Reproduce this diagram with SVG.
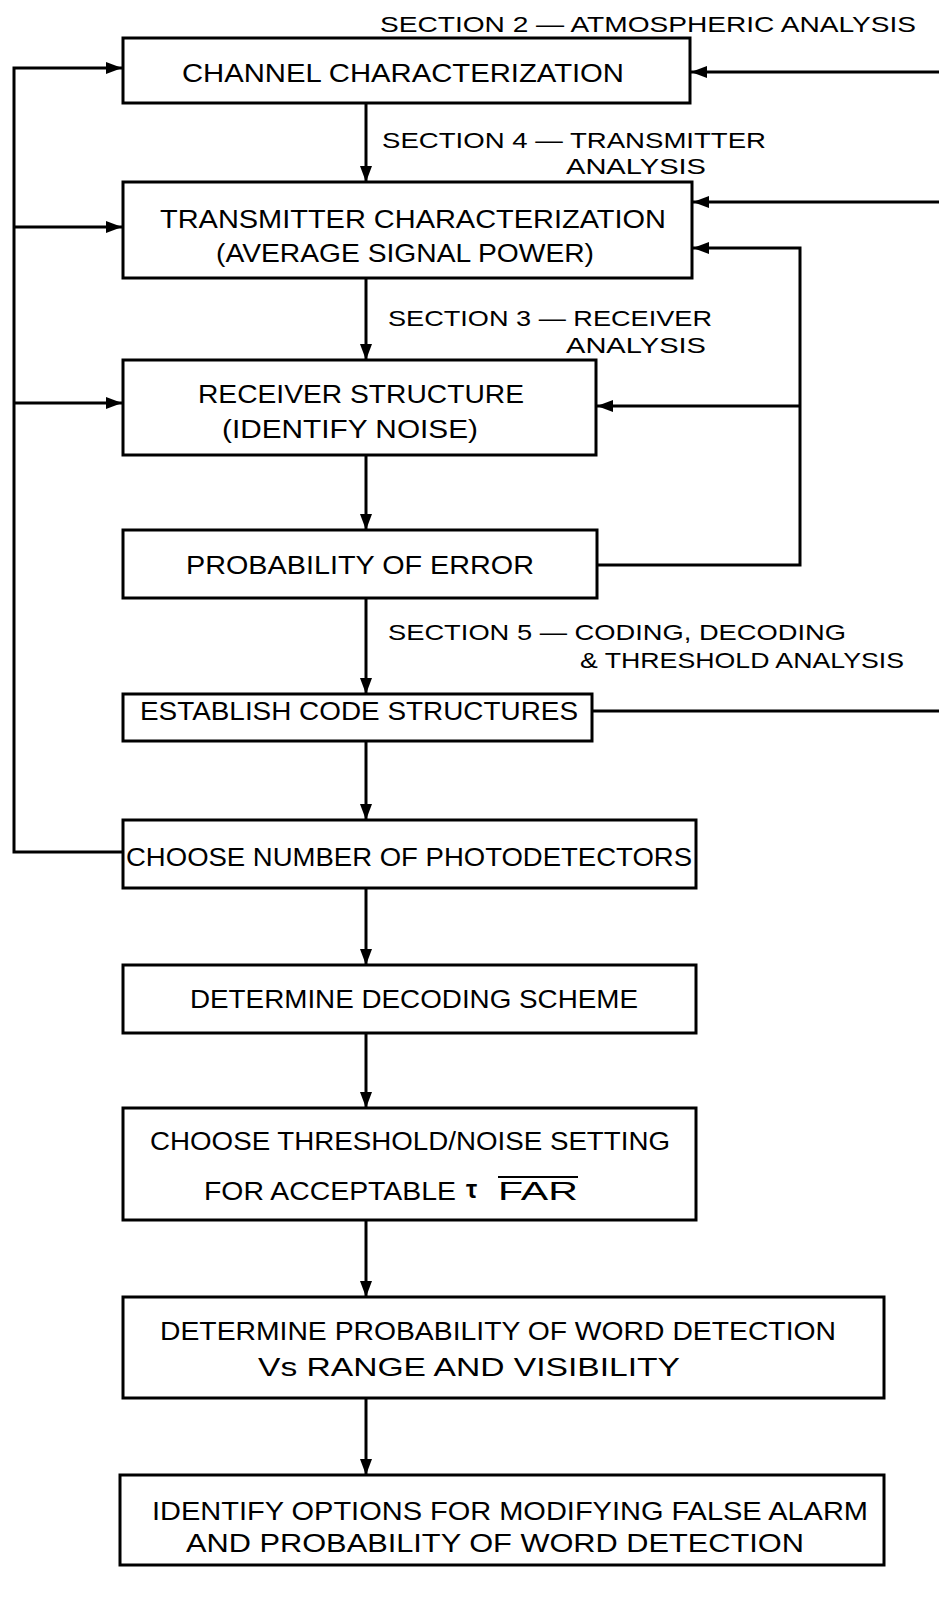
<svg xmlns="http://www.w3.org/2000/svg" width="939" height="1608" viewBox="0 0 939 1608">
<style>
.box{fill:#fff;stroke:#000;stroke-width:3}
.t{font-family:"Liberation Sans",Arial,sans-serif;font-size:25px;fill:#000}
.s{font-family:"Liberation Sans",Arial,sans-serif;font-size:22px;fill:#000}
.c{fill:none;stroke:#000;stroke-width:3}
</style>
<defs>
<marker id="ah" viewBox="0 0 16 12" refX="16" refY="6" markerWidth="16" markerHeight="12" markerUnits="userSpaceOnUse" orient="auto">
<path d="M0,0 L16,6 L0,12 Z" fill="#000"/>
</marker>
</defs>
<rect width="939" height="1608" fill="#fff"/>
<g id="connectors">
<path class="c" d="M366,103 V182" marker-end="url(#ah)"/>
<path class="c" d="M366,278 V360" marker-end="url(#ah)"/>
<path class="c" d="M366,455 V530" marker-end="url(#ah)"/>
<path class="c" d="M366,598 V694" marker-end="url(#ah)"/>
<path class="c" d="M366,741 V820" marker-end="url(#ah)"/>
<path class="c" d="M366,888 V965" marker-end="url(#ah)"/>
<path class="c" d="M366,1033 V1108" marker-end="url(#ah)"/>
<path class="c" d="M366,1220 V1297" marker-end="url(#ah)"/>
<path class="c" d="M366,1398 V1475" marker-end="url(#ah)"/>
<path class="c" d="M123,852 H14 V68 H122" marker-end="url(#ah)"/>
<path class="c" d="M14,227 H122" marker-end="url(#ah)"/>
<path class="c" d="M14,403 H122" marker-end="url(#ah)"/>
<path class="c" d="M939,72 H691" marker-end="url(#ah)"/>
<path class="c" d="M939,202 H693" marker-end="url(#ah)"/>
<path class="c" d="M597,565 H800 V248 H693" marker-end="url(#ah)"/>
<path class="c" d="M800,406 H597" marker-end="url(#ah)"/>
<path class="c" d="M592,711 H939"/>
</g>
<g id="labels">
<text class="s" x="380" y="32" textLength="536" lengthAdjust="spacingAndGlyphs">SECTION 2 — ATMOSPHERIC ANALYSIS</text>
<text class="s" x="382" y="148" textLength="384" lengthAdjust="spacingAndGlyphs">SECTION 4 — TRANSMITTER</text>
<text class="s" x="566" y="174" textLength="140" lengthAdjust="spacingAndGlyphs">ANALYSIS</text>
<text class="s" x="388" y="326" textLength="324" lengthAdjust="spacingAndGlyphs">SECTION 3 — RECEIVER</text>
<text class="s" x="566" y="353" textLength="140" lengthAdjust="spacingAndGlyphs">ANALYSIS</text>
<text class="s" x="388" y="640" textLength="458" lengthAdjust="spacingAndGlyphs">SECTION 5 — CODING, DECODING</text>
<text class="s" x="580" y="668" textLength="324" lengthAdjust="spacingAndGlyphs">&amp; THRESHOLD ANALYSIS</text>
</g>
<g id="n1">
<rect class="box" x="123" y="38" width="567" height="65"/>
<text class="t" x="182" y="82" textLength="442" lengthAdjust="spacingAndGlyphs">CHANNEL CHARACTERIZATION</text>
</g>
<g id="n2">
<rect class="box" x="123" y="182" width="569" height="96"/>
<text class="t" x="160" y="228" textLength="506" lengthAdjust="spacingAndGlyphs">TRANSMITTER CHARACTERIZATION</text>
<text class="t" x="216" y="262" textLength="378" lengthAdjust="spacingAndGlyphs">(AVERAGE SIGNAL POWER)</text>
</g>
<g id="n3">
<rect class="box" x="123" y="360" width="473" height="95"/>
<text class="t" x="198" y="403" textLength="326" lengthAdjust="spacingAndGlyphs">RECEIVER STRUCTURE</text>
<text class="t" x="222" y="438" textLength="256" lengthAdjust="spacingAndGlyphs">(IDENTIFY NOISE)</text>
</g>
<g id="n4">
<rect class="box" x="123" y="530" width="474" height="68"/>
<text class="t" x="186" y="574" textLength="348" lengthAdjust="spacingAndGlyphs">PROBABILITY OF ERROR</text>
</g>
<g id="n5">
<rect class="box" x="123" y="694" width="469" height="47"/>
<text class="t" x="140" y="720" textLength="438" lengthAdjust="spacingAndGlyphs">ESTABLISH CODE STRUCTURES</text>
</g>
<g id="n6">
<rect class="box" x="123" y="820" width="573" height="68"/>
<text class="t" x="126" y="866" textLength="566" lengthAdjust="spacingAndGlyphs">CHOOSE NUMBER OF PHOTODETECTORS</text>
</g>
<g id="n7">
<rect class="box" x="123" y="965" width="573" height="68"/>
<text class="t" x="190" y="1008" textLength="448" lengthAdjust="spacingAndGlyphs">DETERMINE DECODING SCHEME</text>
</g>
<g id="n8">
<rect class="box" x="123" y="1108" width="573" height="112"/>
<text class="t" x="150" y="1150" textLength="520" lengthAdjust="spacingAndGlyphs">CHOOSE THRESHOLD/NOISE SETTING</text>
<text class="t" x="204" y="1200" textLength="252" lengthAdjust="spacingAndGlyphs">FOR ACCEPTABLE</text>
<text class="t" x="466" y="1198" style="font-weight:bold">τ</text>
<text class="t" x="498" y="1200" textLength="80" lengthAdjust="spacingAndGlyphs">FAR</text>
<line x1="498" y1="1177" x2="578" y2="1177" stroke="#000" stroke-width="2"/>
</g>
<g id="n9">
<rect class="box" x="123" y="1297" width="761" height="101"/>
<text class="t" x="160" y="1340" textLength="676" lengthAdjust="spacingAndGlyphs">DETERMINE PROBABILITY OF WORD DETECTION</text>
<text class="t" x="258" y="1376" textLength="422" lengthAdjust="spacingAndGlyphs">Vs RANGE AND VISIBILITY</text>
</g>
<g id="n10">
<rect class="box" x="120" y="1475" width="764" height="90"/>
<text class="t" x="152" y="1520" textLength="716" lengthAdjust="spacingAndGlyphs">IDENTIFY OPTIONS FOR MODIFYING FALSE ALARM</text>
<text class="t" x="186" y="1552" textLength="618" lengthAdjust="spacingAndGlyphs">AND PROBABILITY OF WORD DETECTION</text>
</g>
</svg>
